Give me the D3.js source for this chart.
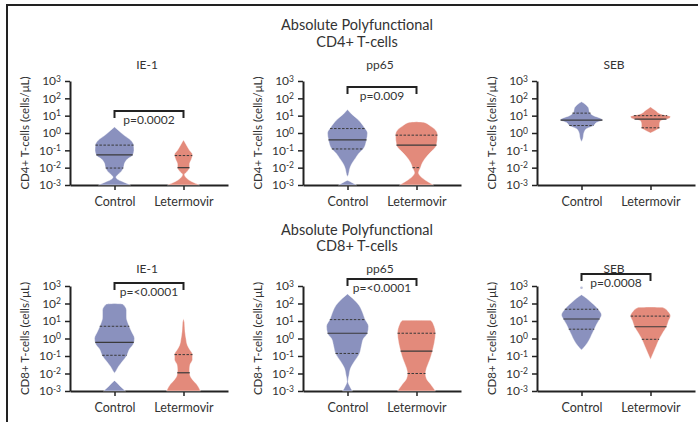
<!DOCTYPE html>
<html>
<head>
<meta charset="utf-8">
<script src="https://cdn.jsdelivr.net/npm/d3@7"></script>
<style>
    body { margin: 0; background: #fff; }
    text { font-family: Lato, "Open Sans", sans-serif; fill: #333; }
</style>
</head>
<body>
<svg id="chart" width="698" height="422"></svg>
<script>
// ---- data ----
const groups = ["Control", "Letermovir"];
const antigens = ["IE-1", "pp65", "SEB"];
const cellTypes = ["CD4+", "CD8+"];
const yTickValues = [1e-3, 1e-2, 1e-1, 1e0, 1e1, 1e2, 1e3];

const pLabelsCD4 = ["p=0.0002", "p=0.009", null];
const pLabelsCD8 = ["p=<0.0001", "p=<0.0001", "p=0.0008"];

// [Q1, median, Q3] in cells/μL (null = sits on the floor)
const quartCD4Control = [[0.0095, 0.055, 0.2], [0.12, 0.4, 1.8], [2.7, 5.6, 14]];
const quartCD4Leter = [[null, 0.01, 0.05], [0.01, 0.2, 0.75], [2, 6.3, 10]];
const quartCD8Control = [[0.11, 0.6, 5], [0.14, 2, 12], [3.4, 13, 47]];
const quartCD8Leter = [[null, 0.011, 0.12], [0.01, 0.19, 2], [0.9, 4.7, 19]];

// violin outlines: [log10(cells/μL), relative density], top to bottom
const violinCD4Control = [
    [[0.35,0],[0.15,4],[-0.15,10],[-0.4,16],[-0.65,19],[-1.0,19.5],[-1.3,18],[-1.5,13],[-1.75,10],[-2.0,9],[-2.2,7],[-2.4,3.5],[-2.55,1.5],[-2.7,4],[-2.85,10],[-3,16]],
    [[1.35,0],[1.1,4],[0.75,11],[0.3,17],[0,20],[-0.4,19],[-0.9,16],[-1.2,11],[-1.45,8],[-1.8,4],[-2.1,2],[-2.4,1],[-2.55,0],[-2.72,0],[-2.78,2],[-3,9]],
    [[1.8,0],[1.65,4],[1.45,7],[1.2,8],[1.0,12],[0.85,19],[0.75,21],[0.6,15],[0.42,12],[0.25,5],[0.1,3],[-0.1,2],[-0.3,1.5],[-0.5,0]]
];
const violinCD4Leter = [
    [[-0.4,0],[-0.7,3],[-1.0,6],[-1.25,9],[-1.5,8],[-1.8,6],[-2.0,6],[-2.2,4],[-2.4,1],[-2.6,3],[-2.8,8],[-3,16]],
    [[0.65,0],[0.62,7],[0.4,14],[0.1,20],[-0.1,21],[-0.7,20],[-1.0,16],[-1.3,11],[-1.7,6],[-2.0,4],[-2.3,2],[-2.5,4],[-2.8,11],[-3,17]],
    [[1.5,0],[1.3,5],[1.1,10],[0.95,20],[0.85,19],[0.7,10],[0.5,9],[0.3,9],[0.15,5],[0,0]]
];
const violinCD8Control = [
    [[2.0,0],[1.97,8],[1.6,12],[1.2,12],[0.8,14],[0.4,17],[0,20],[-0.3,19],[-0.6,15],[-1.0,12],[-1.3,8],[-1.6,4],[-1.85,1.5],[-2.0,0],[-2.4,0],[-2.45,1],[-2.8,7],[-3,11]],
    [[2.55,0],[2.3,5],[1.9,11.5],[1.5,15],[1.1,17.5],[0.7,21],[0.3,20],[0,16],[-0.4,14],[-0.85,12],[-1.3,7],[-1.7,3],[-2.1,1.5],[-2.45,0.5],[-2.7,2],[-3,5]],
    [[2.5,0],[2.3,5],[2.1,9],[1.9,13],[1.67,16.7],[1.35,20],[1.1,18],[0.8,15],[0.5,12.5],[0.2,10],[-0.1,7.5],[-0.4,4],[-0.66,0]]
];
const violinCD8Leter = [
    [[1.15,0],[0.9,1],[0.4,1.5],[0,2.5],[-0.4,4],[-0.7,7],[-0.9,9],[-1.2,9],[-1.5,6.5],[-1.8,6],[-2.1,6.5],[-2.35,9],[-2.6,13],[-3,17]],
    [[1.05,0],[1.04,14],[0.8,17],[0.3,19],[-0.2,18],[-0.7,16],[-1.1,14],[-1.4,12],[-1.7,10],[-2.0,9],[-2.3,10],[-2.6,14],[-3,19]],
    [[1.8,0],[1.78,12],[1.55,17.5],[1.3,20],[1.0,18],[0.67,16],[0.3,12],[0,9],[-0.4,6],[-0.8,3],[-1.2,0]]
];
// stray points above a violin, cells/μL
const outliersCD8Control = [[], [], [800]];

// ---- layout ----
const svg = d3.select("#chart");
const panelX = [70, 303, 537];
const rowY = [[81, 185], [286, 391]];
const axisLen = 158;
const titleY = [[30, 47], [235, 251]];
const subtitleY = [69, 273];
const bracketY = [[111, 87, null], [283, 279, 274]];
const colors = { Control: "#8a91be", Letermovir: "#e38a7b" };
const ink = "#222";

const rows = [
    { cell: cellTypes[0], pLabels: pLabelsCD4, quart: [quartCD4Control, quartCD4Leter], violins: [violinCD4Control, violinCD4Leter], outliers: [[[], [], []], [[], [], []]] },
    { cell: cellTypes[1], pLabels: pLabelsCD8, quart: [quartCD8Control, quartCD8Leter], violins: [violinCD8Control, violinCD8Leter], outliers: [outliersCD8Control, [[], [], []]] }
];

const widthScale = d3.scaleLinear().domain([0, 20]).range([0, 20]);

// frame
svg.append("path")
    .attr("d", "M7,422V5H698")
    .attr("fill", "none")
    .attr("stroke", ink)
    .attr("stroke-width", 2);

function halfWidth(profile, lv) {
    for (let i = 0; i < profile.length - 1; i++) {
        const a = profile[i], b = profile[i + 1];
        if (lv <= a[0] && lv >= b[0]) {
            const t = (a[0] - lv) / ((a[0] - b[0]) || 1);
            return a[1] + t * (b[1] - a[1]);
        }
    }
    return 0;
}

rows.forEach(function (row, r) {
    // row titles
    const tx = panelX[1] + 54;
    svg.append("text").attr("x", tx).attr("y", titleY[r][0])
        .attr("text-anchor", "middle").style("font-size", "14.5px")
        .text("Absolute Polyfunctional");
    svg.append("text").attr("x", tx).attr("y", titleY[r][1])
        .attr("text-anchor", "middle").style("font-size", "14.5px")
        .text(row.cell + " T-cells");

    antigens.forEach(function (ag, c) {
        const g = svg.append("g").attr("transform", "translate(" + panelX[c] + ",0)");
        const y = d3.scaleLog().domain([1e-3, 1e3]).range([rowY[r][1], rowY[r][0]]);
        const x = d3.scalePoint().domain(groups).range([0, axisLen]).padding(0.645);

        // subtitle
        g.append("text").attr("x", axisLen / 2 - 2).attr("y", subtitleY[r])
            .attr("text-anchor", "middle").style("font-size", "12px")
            .text(ag);

        // y label
        g.append("text")
            .attr("transform", "translate(-45," + ((rowY[r][0] + rowY[r][1]) / 2) + ") rotate(-90)")
            .attr("text-anchor", "middle").attr("dy", "0.35em")
            .style("font-size", "11.5px")
            .text(row.cell + " T-cells (cells/μL)");

        // y axis
        const yAxis = g.append("g")
            .call(d3.axisLeft(y).tickValues(yTickValues).tickSize(5).tickSizeOuter(0).tickPadding(4).tickFormat(""));
        yAxis.selectAll(".tick text").each(function (d) {
            const t = d3.select(this).style("font-size", "12px").attr("fill", "#333");
            t.append("tspan").text("10");
            t.append("tspan").attr("dy", "-0.45em").style("font-size", "8.5px")
                .text(String(Math.round(Math.log10(d))));
        });

        // x axis
        const xAxis = g.append("g")
            .attr("transform", "translate(0," + rowY[r][1] + ")")
            .call(d3.axisBottom(x).tickSize(5).tickSizeOuter(0).tickPadding(7));
        xAxis.selectAll(".tick text").style("font-size", "12.5px").attr("fill", "#333");

        [yAxis, xAxis].forEach(function (ax) {
            ax.select(".domain").attr("stroke", ink).attr("stroke-width", 2);
            ax.selectAll(".tick line").attr("stroke", ink).attr("stroke-width", 1.5);
        });

        // violins
        groups.forEach(function (grp, k) {
            const profile = row.violins[k][c];
            const cx = x(grp);
            const area = d3.area()
                .curve(d3.curveMonotoneY)
                .y(d => y(Math.pow(10, d[0])))
                .x0(d => cx - widthScale(d[1]))
                .x1(d => cx + widthScale(d[1]));
            g.append("path")
                .datum(profile)
                .attr("d", area)
                .attr("fill", colors[grp])
                .attr("stroke", "#fff")
                .attr("stroke-opacity", 0.5)
                .attr("stroke-width", 0.8);

            const q = row.quart[k][c];
            q.forEach(function (v, qi) {
                if (v === null) return;
                const hw = widthScale(halfWidth(profile, Math.log10(v)));
                g.append("line")
                    .attr("x1", cx - hw).attr("x2", cx + hw)
                    .attr("y1", y(v)).attr("y2", y(v))
                    .attr("stroke", "#3a3a3a")
                    .attr("stroke-width", qi === 1 ? 1.2 : 1)
                    .attr("stroke-dasharray", qi === 1 ? null : "2.5,1.5");
            });

            g.selectAll(null)
                .data(row.outliers[k][c])
                .enter()
                .append("circle")
                .attr("cx", cx).attr("cy", d => y(d))
                .attr("r", 1.3)
                .attr("fill", colors[grp])
                .attr("opacity", 0.6);
        });

        // significance bracket
        const p = row.pLabels[c];
        if (p) {
            const by = bracketY[r][c];
            const x0 = x(groups[0]), x1 = x(groups[1]);
            g.append("path")
                .attr("d", "M" + x0 + "," + (by + 7) + "V" + by + "H" + x1 + "V" + (by + 7))
                .attr("fill", "none").attr("stroke", ink).attr("stroke-width", 2);
            g.append("text").attr("x", (x0 + x1) / 2).attr("y", by + 12.5)
                .attr("text-anchor", "middle").style("font-size", "12px")
                .text(p);
        }
    });
});
</script>
</body>
</html>
